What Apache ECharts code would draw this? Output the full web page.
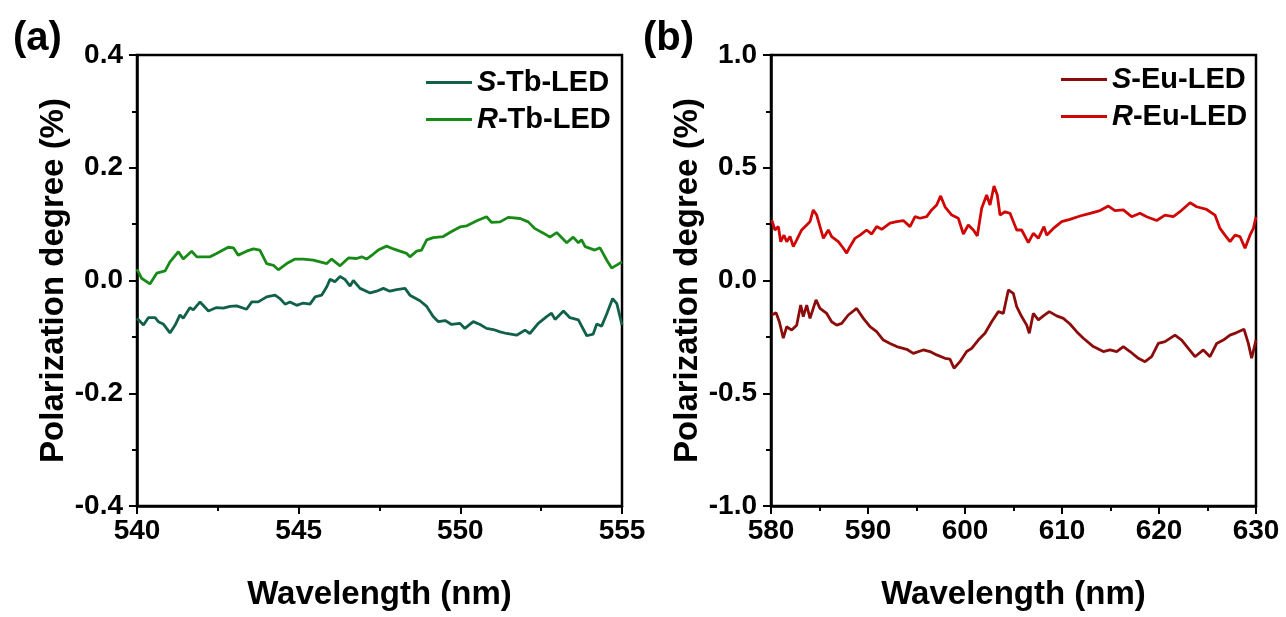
<!DOCTYPE html>
<html>
<head>
<meta charset="utf-8">
<script src="https://cdn.jsdelivr.net/npm/echarts@6/dist/echarts.min.js"></script>
<style>
html,body{margin:0;padding:0;background:#fff;}
#chart{width:1286px;height:617px;}
</style>
</head>
<body>
<div id="chart"></div>
<script>
// ---------- Panel (a): Tb-LED ----------
var tbSWave = [540.00,540.20,540.35,540.56,540.66,540.81,541.02,541.18,541.33,541.43,541.64,541.74,541.95,542.21,542.46,542.67,542.88,543.08,543.39,543.55,543.75,544.01,544.27,544.42,544.58,544.73,544.94,545.14,545.35,545.51,545.71,545.87,545.97,546.12,546.28,546.43,546.59,546.69,546.90,547.21,547.41,547.62,547.82,548.03,548.29,548.44,548.75,548.96,549.16,549.32,549.53,549.73,549.99,550.14,550.40,550.61,550.81,551.02,551.23,551.43,551.74,552.00,552.15,552.41,552.67,552.82,552.93,553.19,553.39,553.65,553.91,554.11,554.22,554.37,554.53,554.71,554.84,555.00];
var tbS = [-0.067,-0.079,-0.066,-0.066,-0.073,-0.077,-0.093,-0.079,-0.061,-0.067,-0.048,-0.052,-0.038,-0.054,-0.048,-0.049,-0.046,-0.045,-0.051,-0.038,-0.038,-0.029,-0.026,-0.032,-0.042,-0.038,-0.044,-0.040,-0.042,-0.029,-0.026,-0.011,0.002,-0.002,0.007,0.002,-0.010,0.000,-0.014,-0.022,-0.019,-0.014,-0.019,-0.016,-0.014,-0.026,-0.036,-0.046,-0.064,-0.073,-0.071,-0.078,-0.076,-0.085,-0.073,-0.078,-0.085,-0.087,-0.091,-0.094,-0.097,-0.088,-0.094,-0.076,-0.064,-0.058,-0.069,-0.054,-0.066,-0.070,-0.098,-0.095,-0.077,-0.081,-0.059,-0.032,-0.041,-0.079];
var tbRWave = [540.00,540.14,540.40,540.61,540.87,541.02,541.28,541.43,541.69,541.85,542.26,542.46,542.82,542.98,543.13,543.39,543.60,543.80,544.01,544.22,544.37,544.63,544.89,545.14,545.45,545.66,545.87,546.02,546.28,546.54,546.79,546.95,547.10,547.31,547.46,547.72,547.93,548.13,548.34,548.44,548.65,548.80,548.96,549.16,549.47,549.73,549.99,550.20,550.51,550.81,550.97,551.23,551.48,551.85,552.10,552.31,552.57,552.77,552.98,553.29,553.49,553.65,553.75,553.86,554.16,554.32,554.53,554.68,555.00];
var tbR = [0.020,0.004,-0.006,0.013,0.017,0.033,0.051,0.038,0.052,0.042,0.042,0.048,0.059,0.058,0.045,0.052,0.056,0.054,0.030,0.027,0.019,0.030,0.038,0.038,0.036,0.033,0.030,0.038,0.026,0.040,0.039,0.042,0.038,0.047,0.054,0.061,0.056,0.052,0.048,0.042,0.052,0.054,0.072,0.076,0.078,0.087,0.095,0.097,0.106,0.113,0.103,0.104,0.112,0.110,0.104,0.092,0.084,0.077,0.085,0.067,0.077,0.067,0.072,0.060,0.054,0.058,0.036,0.022,0.033];

// ---------- Panel (b): Eu-LED ----------
var euSWave = [580.07,580.52,580.86,581.27,581.62,582.13,582.65,583.06,583.33,583.68,584.02,584.64,585.05,585.74,586.25,586.77,587.29,587.97,588.83,589.52,590.21,590.89,591.58,592.27,592.96,593.99,594.67,595.70,596.39,597.08,597.94,598.45,598.87,599.48,600.17,600.69,601.37,602.06,602.75,603.44,603.95,604.47,604.98,605.33,605.84,606.36,606.63,607.04,607.56,608.08,608.69,609.45,610.14,610.82,611.51,612.20,613.23,614.26,614.95,615.64,616.32,617.01,617.87,618.56,619.24,619.93,620.62,621.65,622.34,623.02,623.71,624.57,625.26,625.95,626.63,627.32,628.01,628.76,629.21,629.55,630.00];
var euS = [-0.153,-0.143,-0.183,-0.256,-0.205,-0.220,-0.198,-0.109,-0.160,-0.109,-0.168,-0.086,-0.124,-0.146,-0.183,-0.198,-0.190,-0.153,-0.124,-0.168,-0.205,-0.227,-0.264,-0.279,-0.293,-0.305,-0.323,-0.308,-0.315,-0.330,-0.345,-0.349,-0.389,-0.360,-0.315,-0.301,-0.264,-0.234,-0.183,-0.138,-0.146,-0.042,-0.057,-0.116,-0.160,-0.198,-0.234,-0.146,-0.175,-0.157,-0.138,-0.157,-0.168,-0.193,-0.227,-0.256,-0.293,-0.315,-0.308,-0.315,-0.293,-0.315,-0.345,-0.360,-0.338,-0.279,-0.271,-0.242,-0.264,-0.301,-0.338,-0.308,-0.338,-0.279,-0.264,-0.242,-0.231,-0.216,-0.279,-0.345,-0.264];
var euRWave = [580.07,580.41,580.76,581.00,581.34,581.62,581.96,582.30,582.65,583.16,583.68,584.02,584.36,584.71,585.05,585.40,585.91,586.25,586.94,587.46,587.80,588.14,588.66,589.18,589.86,590.38,590.89,591.41,592.27,592.96,593.64,594.33,594.85,595.36,596.05,596.56,597.08,597.49,597.94,598.63,599.31,599.83,600.34,600.86,601.27,601.72,602.23,602.58,602.99,603.33,603.61,604.12,604.64,605.33,605.84,606.53,607.04,607.56,608.14,608.42,609.11,609.97,610.82,611.86,612.89,613.92,614.78,615.46,616.32,617.18,618.04,618.73,619.76,620.62,621.48,622.16,623.20,623.88,624.91,625.77,626.29,626.80,627.32,627.84,628.35,628.87,629.38,629.73,630.00];
var euR = [0.268,0.224,0.239,0.172,0.201,0.172,0.195,0.150,0.180,0.224,0.246,0.261,0.313,0.290,0.239,0.187,0.224,0.195,0.172,0.143,0.121,0.150,0.187,0.201,0.224,0.206,0.239,0.227,0.254,0.261,0.266,0.239,0.283,0.276,0.283,0.313,0.335,0.375,0.327,0.290,0.276,0.206,0.246,0.224,0.198,0.320,0.379,0.335,0.419,0.379,0.290,0.305,0.298,0.224,0.224,0.168,0.209,0.187,0.239,0.201,0.231,0.261,0.271,0.286,0.298,0.310,0.330,0.310,0.313,0.283,0.298,0.283,0.266,0.290,0.283,0.305,0.345,0.327,0.315,0.290,0.231,0.201,0.172,0.201,0.195,0.143,0.201,0.231,0.283];

var tbYTicks = [-0.4, 0.4, 0.2];   // min, max, interval
var euYTicks = [-1.0, 1.0, 0.5];
var tbXTicks = [540, 555, 5];
var euXTicks = [580, 630, 10];

var seriesNames = ['S-Tb-LED', 'R-Tb-LED', 'S-Eu-LED', 'R-Eu-LED'];
var colors = ['#10604a', '#178a17', '#8c0c0c', '#d00606'];

function zip(xs, ys){ return xs.map(function(x,i){ return [x, ys[i]]; }); }

var FONT = 'Liberation Sans, Arial, sans-serif';

function xAxis(gi, t){
  return {
    type:'value', gridIndex:gi, min:t[0], max:t[1], interval:t[2],
    name:'Wavelength (nm)', nameLocation:'middle', nameGap:72,
    nameTextStyle:{fontFamily:FONT, fontWeight:'bold', fontSize:33, color:'#000'},
    axisLine:{show:true, onZero:false, lineStyle:{color:'#000', width:2.5}},
    axisTick:{show:true, inside:false, length:8, lineStyle:{color:'#000', width:2}},
    minorTick:{show:true, splitNumber:2, length:5, lineStyle:{color:'#000', width:2}},
    splitLine:{show:false},
    axisLabel:{fontFamily:FONT, fontWeight:'bold', fontSize:28, color:'#000', margin:11}
  };
}
function yAxis(gi, t){
  return {
    type:'value', gridIndex:gi, min:t[0], max:t[1], interval:t[2],
    name:'Polarization degree (%)', nameLocation:'middle', nameGap:57, nameRotate:90,
    nameTextStyle:{fontFamily:FONT, fontWeight:'bold', fontSize:33, color:'#000'},
    axisLine:{show:true, onZero:false, lineStyle:{color:'#000', width:2.5}},
    axisTick:{show:true, inside:false, length:8, lineStyle:{color:'#000', width:2}},
    minorTick:{show:true, splitNumber:2, length:5, lineStyle:{color:'#000', width:2}},
    splitLine:{show:false},
    axisLabel:{fontFamily:FONT, fontWeight:'bold', fontSize:28, color:'#000', margin:14,
      formatter:function(v){ return (Math.abs(v)<1e-9?0:v).toFixed(1); }}
  };
}
function lineSeries(name, idx, data, color){
  return {
    type:'line', name:name, xAxisIndex:idx, yAxisIndex:idx, data:data,
    symbol:'none', showSymbol:false, smooth:false, animation:false,
    lineStyle:{color:color, width:2.8}, itemStyle:{color:color}
  };
}
var legendRich = {
  i:{fontFamily:FONT, fontWeight:'bold', fontStyle:'italic', fontSize:29, color:'#000'},
  n:{fontFamily:FONT, fontWeight:'bold', fontSize:29, color:'#000'}
};
function legendFmt(name){ return '{i|' + name.charAt(0) + '}{n|' + name.slice(1) + '}'; }

var chart = echarts.init(document.getElementById('chart'), null, {renderer:'canvas'});
chart.setOption({
  backgroundColor:'#fff',
  animation:false,
  title:[
    {text:'(a)', left:8, top:14, textStyle:{fontFamily:FONT, fontWeight:'bold', fontSize:40, color:'#000'}},
    {text:'(b)', left:638, top:14, textStyle:{fontFamily:FONT, fontWeight:'bold', fontSize:40, color:'#000'}}
  ],
  grid:[
    {left:137, top:55, width:485, height:451, show:true, borderColor:'#000', borderWidth:2.5, backgroundColor:'transparent', containLabel:false},
    {left:771, top:55, width:485, height:451, show:true, borderColor:'#000', borderWidth:2.5, backgroundColor:'transparent', containLabel:false}
  ],
  legend:[
    {data:[seriesNames[0], seriesNames[1]], orient:'vertical', left:421, top:63, icon:'rect', itemWidth:46, itemHeight:3, itemGap:8,
      formatter:legendFmt, textStyle:{rich:legendRich}},
    {data:[seriesNames[2], seriesNames[3]], orient:'vertical', left:1056, top:60, icon:'rect', itemWidth:46, itemHeight:3, itemGap:8,
      formatter:legendFmt, textStyle:{rich:legendRich}}
  ],
  xAxis:[xAxis(0, tbXTicks), xAxis(1, euXTicks)],
  yAxis:[yAxis(0, tbYTicks), yAxis(1, euYTicks)],
  series:[
    lineSeries(seriesNames[0], 0, zip(tbSWave, tbS), colors[0]),
    lineSeries(seriesNames[1], 0, zip(tbRWave, tbR), colors[1]),
    lineSeries(seriesNames[2], 1, zip(euSWave, euS), colors[2]),
    lineSeries(seriesNames[3], 1, zip(euRWave, euR), colors[3])
  ]
});
</script>
</body>
</html>
